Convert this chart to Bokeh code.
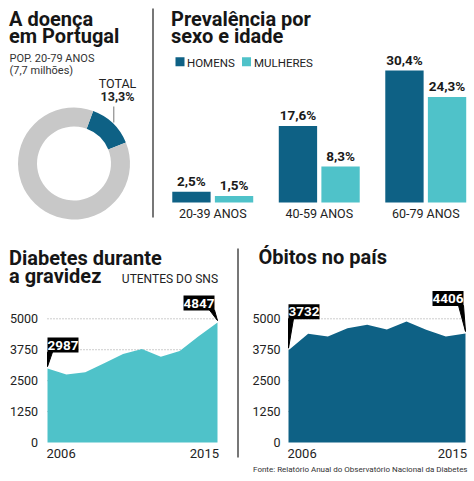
import math
from bokeh.plotting import figure
from bokeh.layouts import column, row
from bokeh.models import Range1d, Label, LabelSet, ColumnDataSource
from bokeh.embed import file_html
from bokeh.resources import INLINE
from bokeh.core.properties import value

# ---------------- data ----------------
total_pct = 13.3
age_groups = ["20-39 ANOS", "40-59 ANOS", "60-79 ANOS"]
homens = [2.5, 17.6, 30.4]
mulheres = [1.5, 8.3, 24.3]
years = [2006, 2007, 2008, 2009, 2010, 2011, 2012, 2013, 2014, 2015]
gravidez = [2987, 2753, 2835, 3200, 3580, 3783, 3471, 3702, 4294, 4847]
obitos = [3732, 4392, 4282, 4619, 4757, 4566, 4890, 4554, 4282, 4406]
y_ticks = [0, 1250, 2500, 3750, 5000]

FONT = "Roboto"
DARK = "#0e6185"
LIGHT = "#4fc2c9"
GRAY = "#c8c8c8"
INK = "#161616"
SEP = "#4a4a4a"
MID = 0.33  # distance baseline -> 'middle' anchor, in em


class Map:
    """page pixel -> data coordinates for a figure frame"""
    def __init__(self, l, r, t, b, x0, x1, ytop, ybot):
        self.l, self.r, self.t, self.b = l, r, t, b
        self.x0, self.x1, self.ytop, self.ybot = x0, x1, ytop, ybot

    def x(self, px):
        return self.x0 + (px - self.l) / (self.r - self.l) * (self.x1 - self.x0)

    def y(self, py):
        return self.ytop + (py - self.t) / (self.b - self.t) * (self.ybot - self.ytop)

    def dx(self, n):
        return n / (self.r - self.l) * (self.x1 - self.x0)

    def dy(self, n):
        return n / (self.b - self.t) * (self.ytop - self.ybot)


def pixmap(l, r, t, b):
    return Map(l, r, t, b, 0, r - l, b - t, 0)


def mkfig(m):
    p = figure(width=m.r - m.l, height=m.b - m.t, x_range=Range1d(m.x0, m.x1),
               y_range=Range1d(m.ybot, m.ytop), output_backend="svg",
               toolbar_location=None, tools="", x_axis_location=None,
               y_axis_location=None, min_border=0, outline_line_color=None,
               background_fill_color="white", border_fill_color="white")
    p.grid.visible = False
    return p


def lab(p, m, px, base_py, text, size=12, bold=False, color=INK, align="left"):
    """label whose baseline sits at page y base_py"""
    p.add_layout(Label(x=m.x(px), y=m.y(base_py - MID * size), text=text,
                       text_font=FONT, text_font_size=f"{size}px",
                       text_font_style="bold" if bold else "normal",
                       text_color=color, text_align=align, text_baseline="middle"))


def pct(v):
    return f"{v:.1f}%".replace(".", ",")


TITLE = 20

# ---------------- panel 1: donut ----------------
m1 = pixmap(0, 154, 0, 238)
p1 = mkfig(m1)
start = math.radians(70)
shares = [total_pct, 100 - total_pct]
starts, ends = [], []
a = start
for s in shares:
    starts.append(a)
    a = a - s / 100 * 2 * math.pi
    ends.append(a)
p1.annular_wedge(x=m1.x(73.5), y=m1.y(163), inner_radius=37, outer_radius=56,
                 start_angle=starts, end_angle=ends, direction="clock",
                 color=[DARK, GRAY], line_color=None)
p1.segment(x0=[m1.x(113.3)], y0=[m1.y(106)], x1=[m1.x(113.3)], y1=[m1.y(122)],
           line_color="#777777", line_width=1)
p1.segment(x0=[m1.x(152.5)], y0=[m1.y(8)], x1=[m1.x(152.5)], y1=[m1.y(217)],
           line_color=SEP, line_width=1.5)
lab(p1, m1, 8.5, 25.5, "A doença", size=TITLE, bold=True)
lab(p1, m1, 8.5, 42, "em Portugal", size=TITLE, bold=True)
lab(p1, m1, 9, 61.5, "POP. 20-79 ANOS", size=11, color="#333333")
lab(p1, m1, 9, 73.5, "(7,7 milhões)", size=11, color="#333333")
lab(p1, m1, 117, 87.5, "TOTAL", size=12.5, color="#222222", align="center")
lab(p1, m1, 117, 100.5, pct(total_pct), size=12.5, bold=True, color="#222222",
    align="center")

# ---------------- panel 2: bars ----------------
PXU = 106.5   # px per group
PXP = 4.342   # px per percent
m2 = Map(154, 474, 0, 238, (154 - 212.25) / PXU, (474 - 212.25) / PXU,
         (202 - 0) / PXP, (202 - 238) / PXP)
p2 = mkfig(m2)
idx = list(range(len(age_groups)))
src = ColumnDataSource(dict(
    xh=[i - 0.2 for i in idx], xm=[i + 0.2 for i in idx], xc=idx,
    h=homens, m=mulheres, g=age_groups,
    th=[pct(v) for v in homens], tm=[pct(v) for v in mulheres]))
p2.vbar(x="xh", top="h", bottom=0, width=0.36, source=src, color=DARK, line_color=None)
p2.vbar(x="xm", top="m", bottom=0, width=0.36, source=src, color=LIGHT, line_color=None)
for xcol, ycol, tcol in (("xh", "h", "th"), ("xm", "m", "tm")):
    p2.add_layout(LabelSet(x=xcol, y=ycol, text=tcol, source=src,
                           y_offset=6.5 + MID * 13.5,
                           text_align="center", text_baseline="middle",
                           text_font=value(FONT), text_font_size="13.5px",
                           text_font_style="bold", text_color="#1a1a1a"))
p2.add_layout(LabelSet(x="xc", y=0, text="g", source=src, y_offset=-14.7 + MID * 12.5,
                       text_align="center", text_baseline="middle",
                       text_font=value(FONT), text_font_size="12.5px",
                       text_color="#222222"))
lab(p2, m2, 170.5, 25.5, "Prevalência por", size=TITLE, bold=True)
lab(p2, m2, 170.5, 42, "sexo e idade", size=TITLE, bold=True)
# legend
p2.scatter(x=[m2.x(179.5), m2.x(246)], y=[m2.y(61.3)] * 2, marker="square", size=9,
           color=[DARK, LIGHT], line_color=None)
lab(p2, m2, 186.5, 66, "HOMENS", size=11.5, color="#222222")
lab(p2, m2, 253.5, 66, "MULHERES", size=11.5, color="#222222")

# ---------------- panels 3 & 4: areas ----------------
PY = 123.7 / 5000  # px per unit
TOP, BOT, ZERO = 238, 481, 442


def area_panel(page_l, page_r, x2006_px, x2015_px, vals, color, gaps, shifts, tick_gap):
    pxyr = (x2015_px - x2006_px) / (years[-1] - years[0])
    m = Map(page_l, page_r, TOP, BOT,
            years[0] - (x2006_px - page_l) / pxyr, years[0] + (page_r - x2006_px) / pxyr,
            (ZERO - TOP) / PY, -(BOT - ZERO) / PY)
    p = mkfig(m)
    # value axis labels
    tsrc = ColumnDataSource(dict(x=[years[0]] * len(y_ticks), y=y_ticks,
                                 t=[str(t) for t in y_ticks]))
    p.add_layout(LabelSet(x="x", y="y", text="t", source=tsrc, x_offset=-tick_gap,
                          text_align="right", text_baseline="middle",
                          text_font=value(FONT), text_font_size="12.5px",
                          text_color="#222222"))
    gt = [t for t in y_ticks if t > 0]
    p.segment(x0=[years[0]] * len(gt), y0=gt, x1=[years[-1]] * len(gt), y1=gt,
              line_color="#9a9a9a", line_width=1, line_dash="1 2")
    p.varea(x=years, y1=[0] * len(years), y2=vals, color=color)
    # year labels
    p.add_layout(Label(x=years[0], y=m.y(457.3 - MID * 13), x_offset=-1,
                       text=str(years[0]), text_font=FONT, text_font_size="13px",
                       text_color="#222222", text_align="left", text_baseline="middle"))
    p.add_layout(Label(x=years[-1], y=m.y(457.3 - MID * 13), x_offset=1.5,
                       text=str(years[-1]), text_font=FONT, text_font_size="13px",
                       text_color="#222222", text_align="right", text_baseline="middle"))
    # callouts
    for i, side in ((0, "left"), (-1, "right")):
        xv, yv = years[i], vals[i]
        gap, sh = gaps[i], shifts[i]
        top = yv + m.dy(gap)
        if side == "left":
            xs = [xv, xv + m.dx(5), xv]
        else:
            xs = [xv + m.dx(sh), xv + m.dx(sh - 5), xv]
        p.patch(x=xs, y=[top + m.dy(0.5), top + m.dy(0.5), yv + m.dy(2)], color="black")
        p.add_layout(Label(x=xv, y=yv, x_offset=sh, y_offset=gap, text=str(yv),
                           text_font=FONT, text_font_size="13.5px",
                           text_font_style="bold", text_color="white",
                           text_align=side, text_baseline="bottom",
                           background_fill_color="black", padding=(0, 3)))
    return p, m


p3, m3 = area_panel(0, 239, 47, 217, gravidez, LIGHT, [16, 12], [0, -3], 9.5)
lab(p3, m3, 8.5, 264, "Diabetes durante", size=TITLE, bold=True)
lab(p3, m3, 8.5, 282, "a gravidez", size=TITLE, bold=True)
lab(p3, m3, 217.5, 282.3, "UTENTES DO SNS", size=12, color="#222222", align="right")
p3.segment(x0=[m3.x(237.5)], y0=[m3.y(248)], x1=[m3.x(237.5)], y1=[m3.y(457)],
           line_color=SEP, line_width=1.5)

p4, m4 = area_panel(239, 474, 288, 465, obitos, DARK, [31, 27.5], [0, -2], 8)
lab(p4, m4, 258, 263.5, "Óbitos no país", size=TITLE, bold=True)
lab(p4, m4, 467, 471.7, "Fonte: Relatório Anual do Observatório Nacional da Diabetes",
    size=8, color="#333333", align="right")

layout = column(row(p1, p2, spacing=0), row(p3, p4, spacing=0), spacing=0)
open("out.html", "w").write(file_html(layout, INLINE))
